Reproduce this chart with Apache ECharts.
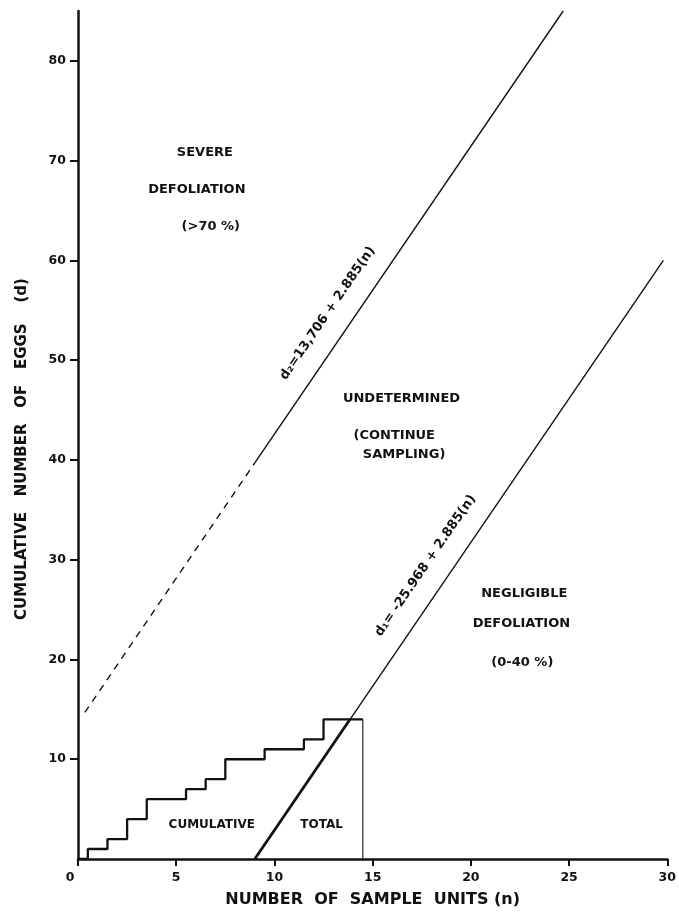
<!DOCTYPE html>
<html>
<head>
<meta charset="utf-8">
<script src="https://cdn.jsdelivr.net/npm/echarts@6/dist/echarts.min.js"></script>
<style>
html,body{margin:0;padding:0;background:#fff;}
#chart{width:679px;height:914px;}
</style>
</head>
<body>
<div id="chart"></div>
<script>
// ---- data ----
const xTicks = [0, 5, 10, 15, 20, 25, 30];
const yTicks = [10, 20, 30, 40, 50, 60, 70, 80];
const sampleUnits    = [0, 1, 2, 3, 4, 5, 6, 7, 8, 9, 10, 11, 12, 13, 14, 14.5];
const cumulativeEggs = [0, 1, 2, 4, 6, 6, 7, 8, 10, 10, 11, 11, 12, 14, 14, 14];
const totalDropN = [14.5, 14.5];
const totalDropD = [14, 0];
// upper decision line d2 = 13.706 + 2.885 n
const d2DashedN = [0.35, 9.0];
const d2DashedD = [14.7, 39.7];
const d2SolidN  = [9.0, 24.7];
const d2SolidD  = [39.7, 85.0];
// lower decision line d1 = -25.968 + 2.885 n
const d1BoldN = [9.0, 13.85];
const d1BoldD = [0.0, 14.0];
const d1ThinN = [13.85, 29.8];
const d1ThinD = [14.0, 60.0];

const regionTexts = ['SEVERE', 'DEFOLIATION', '(>70 %)', 'UNDETERMINED', '(CONTINUE', 'SAMPLING)',
                     'NEGLIGIBLE', 'DEFOLIATION', '(0-40 %)', 'CUMULATIVE', 'TOTAL'];
const regionAt = [[6.46, 70.8], [6.05, 67.1], [6.76, 63.4], [16.47, 46.1], [16.1, 42.4], [16.6, 40.5],
                  [22.72, 26.6], [22.57, 23.6], [22.62, 19.7], [6.81, 3.4], [12.4, 3.4]];
const lineTexts = ['d₂=13,706 + 2.885(n)', 'd₁= -25.968 + 2.885(n)'];
const lineTextAt = [[12.71, 54.7], [17.69, 29.4]];

const zip = (a, b) => a.map((v, i) => [v, b[i]]);
const FONT = 'DejaVu Sans';
const INK = '#111';

const chart = echarts.init(document.getElementById('chart'));
const lineBase = {type: 'line', showSymbol: false, symbol: 'none', silent: true, animation: false};

chart.setOption({
  backgroundColor: '#fff',
  animation: false,
  grid: {left: 78, right: 11, top: 11, bottom: 55},
  xAxis: {
    type: 'value', min: 0, max: 30, interval: 5,
    name: 'NUMBER  OF  SAMPLE  UNITS (n)', nameLocation: 'middle', nameGap: 33,
    nameTextStyle: {fontFamily: FONT, fontWeight: 'bold', fontSize: 16, color: INK},
    splitLine: {show: false},
    axisLine: {lineStyle: {color: INK, width: 2.5}},
    axisTick: {length: 7, lineStyle: {color: INK, width: 2}},
    axisLabel: {
      margin: 12, fontFamily: FONT, fontWeight: 'bold', fontSize: 12.5, color: INK,
      formatter: v => v === 0 ? '{z|0}' : String(v),
      rich: {z: {fontFamily: FONT, fontWeight: 'bold', fontSize: 12.5, color: INK, padding: [0, 16, 0, 0]}}
    }
  },
  yAxis: {
    type: 'value', min: 0, max: 85,
    name: 'CUMULATIVE   NUMBER   OF   EGGS    (d)', nameLocation: 'middle', nameGap: 48,
    nameTextStyle: {fontFamily: FONT, fontWeight: 'bold', fontSize: 15, color: INK, padding: [0, 28, 0, 0]},
    splitLine: {show: false},
    axisLine: {lineStyle: {color: INK, width: 2.5}},
    axisTick: {length: 8, customValues: yTicks, lineStyle: {color: INK, width: 2}},
    axisLabel: {margin: 12, customValues: yTicks, fontFamily: FONT, fontWeight: 'bold', fontSize: 12.5, color: INK}
  },
  series: [
    Object.assign({}, lineBase, {
      data: zip(sampleUnits, cumulativeEggs), step: 'middle',
      lineStyle: {color: INK, width: 2.3}
    }),
    Object.assign({}, lineBase, {data: zip(totalDropN, totalDropD), lineStyle: {color: INK, width: 1.1}}),
    Object.assign({}, lineBase, {data: zip(d2DashedN, d2DashedD), lineStyle: {color: INK, width: 1.4, type: [7, 6]}}),
    Object.assign({}, lineBase, {data: zip(d2SolidN, d2SolidD), lineStyle: {color: INK, width: 1.4}}),
    Object.assign({}, lineBase, {data: zip(d1BoldN, d1BoldD), lineStyle: {color: INK, width: 2.8}}),
    Object.assign({}, lineBase, {data: zip(d1ThinN, d1ThinD), lineStyle: {color: INK, width: 1.4}}),
    {
      type: 'scatter', symbolSize: 0, silent: true, animation: false,
      itemStyle: {opacity: 1},
      data: regionTexts.map((t, i) => ({
        value: regionAt[i],
        label: {
          show: true, position: 'inside', formatter: t,
          fontFamily: FONT, fontWeight: 'bold', fontSize: i >= 9 ? 12 : 13, color: INK
        }
      }))
    },
    {
      type: 'scatter', symbolSize: 0, silent: true, animation: false,
      itemStyle: {opacity: 1},
      data: lineTexts.map((t, i) => ({
        value: lineTextAt[i],
        label: {
          show: true, position: 'inside', formatter: t, rotate: 55.6,
          fontFamily: FONT, fontWeight: 'bold', fontSize: 13, color: INK
        }
      }))
    }
  ]
});
</script>
</body>
</html>
